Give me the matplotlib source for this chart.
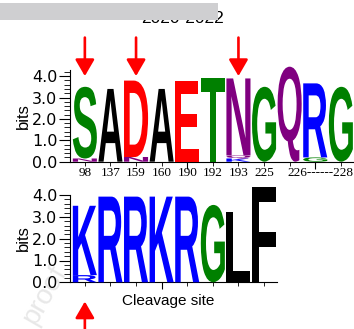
import matplotlib
matplotlib.use("Agg")
import matplotlib.pyplot as plt
from matplotlib.textpath import TextPath
from matplotlib.font_manager import FontProperties
from matplotlib.patches import PathPatch, Rectangle
from matplotlib.transforms import Affine2D
from matplotlib.ticker import MultipleLocator

# stacks are listed bottom -> top as (letter, bits)
top_stacks = [
    [("N", 0.15), ("S", 3.35)],
    [("A", 3.4)],
    [("N", 0.22), ("D", 3.57)],
    [("A", 3.4)],
    [("E", 3.79)],
    [("T", 3.9)],
    [("K", 0.15), ("Q", 0.14), ("N", 3.6)],
    [("G", 3.5)],
    [("Q", 4.44)],
    [("G", 0.2), ("R", 3.46)],
    [("G", 3.5)],
]
top_labels = ["98", "137", "159", "160", "190", "192", "193", "225", "226------228"]
top_arrows = [0, 2, 6]

bottom_stacks = [
    [("R", 0.33), ("K", 3.18)],
    [("R", 3.93)],
    [("R", 3.93)],
    [("K", 3.93)],
    [("R", 3.93)],
    [("G", 3.55)],
    [("L", 3.24)],
    [("F", 4.38)],
]
bottom_arrows = [0]

colors = {"S": "#008000", "G": "#008000", "T": "#008000",
          "A": "black", "L": "black", "F": "black",
          "D": "#ff0000", "E": "#ff0000",
          "N": "#800080", "Q": "#800080",
          "R": "#0000ff", "K": "#0000ff"}

fp = FontProperties(family="Liberation Sans", weight="bold")
arrow_props = dict(arrowstyle="-|>,head_width=0.58,head_length=1.0",
                   color="#ff0000", lw=1.9, shrinkA=0, shrinkB=0)


def draw_stack(ax, x, stack, w=0.94):
    y0 = 0.0
    for ch, h in stack:
        tp = TextPath((0, 0), ch, size=1, prop=fp)
        bb = tp.get_extents()
        tr = (Affine2D().translate(-bb.x0, -bb.y0)
              .scale(w / bb.width, h / bb.height)
              .translate(x - w / 2, y0))
        ax.add_patch(PathPatch(tr.transform_path(tp), fc=colors[ch],
                               ec="none", clip_on=False, zorder=3))
        y0 += h


def style_axis(ax, ymax):
    ax.set_facecolor("none")
    ax.set_ylim(0, ymax)
    ax.spines["top"].set_visible(False)
    ax.spines["right"].set_visible(False)
    ax.yaxis.set_major_locator(MultipleLocator(1))
    ax.yaxis.set_minor_locator(MultipleLocator(0.2))
    ax.yaxis.set_major_formatter(plt.FormatStrFormatter("%.1f"))
    ax.tick_params(axis="y", which="major", length=8, pad=1, labelsize=11.5)
    ax.tick_params(axis="y", which="minor", length=4.5)
    ax.tick_params(axis="x", which="major", length=5, labelbottom=False)
    ax.tick_params(axis="x", which="minor", length=3)
    for t in ax.get_yticklabels():
        t.set_fontfamily("DejaVu Sans")
    ax.set_ylabel("bits", fontsize=12, family="Liberation Sans", labelpad=1)


W, H = 354, 329
fig = plt.figure(figsize=(W / 100, H / 100), dpi=100)
col = 25.6  # px per column

# faint watermark behind everything
fig.text(45 / W, (H - 295) / H, "proof", rotation=60, fontsize=20,
         ha="center", va="center", color="#e8e8e8",
         family="Liberation Sans", zorder=-1)

ax1 = fig.add_axes([70 / W, (H - 161.7) / H, 290 / W, 4.3 * 21.4 / H])
ax1.set_xlim(-0.58, -0.58 + 290 / col)
style_axis(ax1, 4.3)
ax1.set_xticks([4, 9])
ax1.set_xticks(range(len(top_stacks)), minor=True)
for i, st in enumerate(top_stacks):
    draw_stack(ax1, i, st)
for i, lab in enumerate(top_labels):
    x = i if i < 8 else 9.2
    ax1.text(x, -0.53, lab, ha="center", va="center", fontsize=9.5,
             family="Liberation Serif")
for i in top_arrows:
    ax1.annotate("", xy=(i, 4.0), xytext=(i, 5.8), annotation_clip=False,
                 arrowprops=arrow_props)

ax2 = fig.add_axes([70 / W, (H - 282.3) / H, 207 / W, 4.02 * 21.8 / H])
ax2.set_xlim(-0.58, -0.58 + 207 / col)
style_axis(ax2, 4.02)
ax2.set_xticks([3])
ax2.set_xticks(range(len(bottom_stacks)), minor=True)
for i, st in enumerate(bottom_stacks):
    draw_stack(ax2, i, st)
ax2.text(3.25, -0.85, "Cleavage site", ha="center", va="center",
         fontsize=11, family="Liberation Sans")
for i in bottom_arrows:
    ax2.annotate("", xy=(i, -0.88), xytext=(i, -2.3), annotation_clip=False,
                 arrowprops=arrow_props)

fig.text(183 / W, (H - 23) / H, "2020-2022", ha="center", va="baseline",
         fontsize=12.5, family="Liberation Sans")
fig.add_artist(Rectangle((0, (H - 20) / H), 218 / W, 17 / H,
                         transform=fig.transFigure, fc="#cfcfd1", ec="none",
                         zorder=5))

fig.savefig("out.png", dpi=100)
